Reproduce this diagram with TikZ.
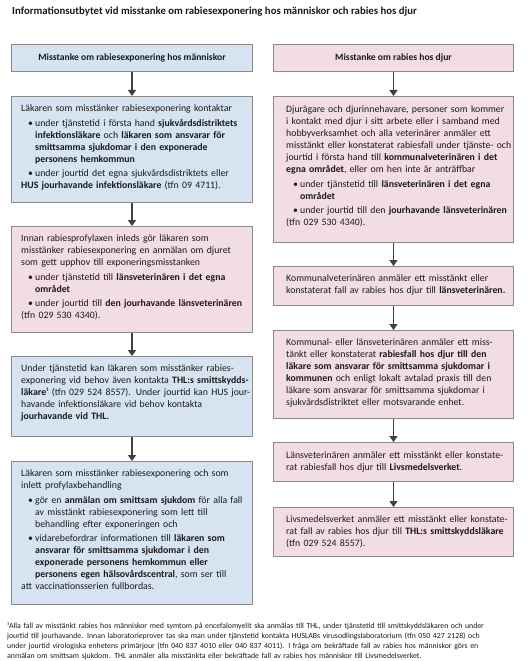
\documentclass[tikz,border=0pt]{standalone}
\usepackage{fontspec}
\setmainfont{Carlito}
\usetikzlibrary{arrows.meta}
\definecolor{bluefill}{HTML}{D6E3F1}
\definecolor{pinkfill}{HTML}{F2DCE5}
\definecolor{edgec}{HTML}{8A8A8A}
\definecolor{arrowc}{HTML}{404040}
\definecolor{textc}{HTML}{1A1A1A}
\newcommand\bitem{\par\vspace{2.6bp}\leftskip=14bp\noindent\llap{\makebox[7bp][l]{\textbullet}}}
\tikzset{
  box/.style={draw=edgec, line width=1bp, inner sep=0pt, anchor=north west},
  lbox/.style={box, minimum width=241bp, minimum height=#1},
  rbox/.style={box, minimum width=240bp, minimum height=#1},
  head/.style={font=\bfseries\fontsize{9.6bp}{12bp}\selectfont, text=textc},
  txt/.style={anchor=base west, inner sep=0pt, text width=300bp, align=left, text=textc,
              font=\fontsize{9.8bp}{12bp}\selectfont},
  arr/.style={draw=arrowc, line width=1.5bp, -{Triangle[width=8bp,length=6bp]}},
}
\begin{document}
\begin{tikzpicture}[x=1bp,y=-1bp]
\path[use as bounding box, fill=white] (0,0) rectangle (530,661);

\node[anchor=base west, inner sep=0pt, text=textc, font=\bfseries\fontsize{10.75bp}{12bp}\selectfont] (title) at (12,15)
  {Informationsutbytet vid misstanke om rabiesexponering hos människor och rabies hos djur};

% left column
\node[lbox=27bp, fill=bluefill, head] (LH) at (11,44) {Misstanke om rabiesexponering hos människor};
\node[lbox=106bp, fill=bluefill] (L1) at (11,96) {};
\node[lbox=106bp, fill=pinkfill] (L2) at (11,226) {};
\node[lbox=80bp, fill=bluefill] (L3) at (11,356) {};
\node[lbox=143bp, fill=bluefill] (L4) at (11,461) {};

% right column
\node[rbox=27bp, fill=pinkfill, head] (RH) at (273,44) {Misstanke om rabies hos djur};
\node[rbox=146bp, fill=pinkfill] (R1) at (273,96) {};
\node[rbox=39bp, fill=pinkfill] (R2) at (273,266) {};
\node[rbox=88bp, fill=pinkfill] (R3) at (273,330) {};
\node[rbox=39bp, fill=pinkfill] (R4) at (273,442) {};
\node[rbox=49bp, fill=pinkfill] (R5) at (273,507) {};

% texts
\node[txt] (L1t) at ([xshift=10bp,yshift=-15.5bp]L1.north west)
 {Läkaren som misstänker rabiesexponering kontaktar
  \bitem under tjänstetid i första hand \textbf{sjukvårdsdistriktets}\\
  \textbf{infektionsläkare} och \textbf{läkaren som ansvarar för}\\
  \textbf{smittsamma sjukdomar i den exponerade}\\
  \textbf{personens hemkommun}
  \bitem under jourtid det egna sjukvårdsdistriktets eller\\
  \textbf{HUS jourhavande infektionsläkare} (tfn 09 4711).};

\node[txt] (L2t) at ([xshift=10bp,yshift=-15.5bp]L2.north west)
 {Innan rabiesprofylaxen inleds gör läkaren som\\
  misstänker rabiesexponering en anmälan om djuret\\
  som gett upphov till exponeringsmisstanken
  \bitem under tjänstetid till \textbf{länsveterinären i det egna}\\
  \textbf{området}
  \bitem under jourtid till \textbf{den jourhavande länsveterinären}\\
  (tfn 029 530 4340).};

\node[txt] (L3t) at ([xshift=10bp,yshift=-15.5bp]L3.north west)
 {Under tjänstetid kan läkaren som misstänker rabies-\\
  exponering vid behov även kontakta \textbf{THL:s smittskydds-}\\
  \textbf{läkare}¹ (tfn 029 524 8557). Under jourtid kan HUS jour-\\
  havande infektionsläkare vid behov kontakta\\
  \textbf{jourhavande vid THL.}};

\node[txt] (L4t) at ([xshift=10bp,yshift=-15.5bp]L4.north west)
 {Läkaren som misstänker rabiesexponering och som\\
  inlett profylaxbehandling
  \bitem gör en \textbf{anmälan om smittsam sjukdom} för alla fall\\
  av misstänkt rabiesexponering som lett till\\
  behandling efter exponeringen och
  \bitem vidarebefordrar informationen till \textbf{läkaren som}\\
  \textbf{ansvarar för smittsamma sjukdomar i den}\\
  \textbf{exponerade personens hemkommun eller}\\
  \textbf{personens egen hälsovårdscentral}, som ser till\\
  att vaccinationsserien fullbordas.};

\node[txt] (R1t) at ([xshift=13bp,yshift=-16.5bp]R1.north west)
 {Djurägare och djurinnehavare, personer som kommer\\
  i kontakt med djur i sitt arbete eller i samband med\\
  hobbyverksamhet och alla veterinärer anmäler ett\\
  misstänkt eller konstaterat rabiesfall under tjänste- och\\
  jourtid i första hand till \textbf{kommunalveterinären i det}\\
  \textbf{egna området}, eller om hen inte är anträffbar
  \bitem under tjänstetid till \textbf{länsveterinären i det egna}\\
  \textbf{området}
  \bitem under jourtid till den \textbf{jourhavande länsveterinären}\\
  (tfn 029 530 4340).};

\node[txt] (R2t) at ([xshift=13bp,yshift=-15bp]R2.north west)
 {Kommunalveterinären anmäler ett misstänkt eller\\
  konstaterat fall av rabies hos djur till \textbf{länsveterinären.}};

\node[txt] (R3t) at ([xshift=13bp,yshift=-15.5bp]R3.north west)
 {Kommunal- eller länsveterinären anmäler ett miss-\\
  tänkt eller konstaterat \textbf{rabiesfall hos djur till den}\\
  \textbf{läkare som ansvarar för smittsamma sjukdomar i}\\
  \textbf{kommunen} och enligt lokalt avtalad praxis till den\\
  läkare som ansvarar för smittsamma sjukdomar i\\
  sjukvårdsdistriktet eller motsvarande enhet.};

\node[txt] (R4t) at ([xshift=13bp,yshift=-16bp]R4.north west)
 {Länsveterinären anmäler ett misstänkt eller konstate-\\
  rat rabiesfall hos djur till \textbf{Livsmedelsverket}.};

\node[txt] (R5t) at ([xshift=13bp,yshift=-15bp]R5.north west)
 {Livsmedelsverket anmäler ett misstänkt eller konstate-\\
  rat fall av rabies hos djur till \textbf{THL:s smittskyddsläkare}\\
  (tfn 029 524 8557).};

% arrows
\draw[arr] (LH.south) -- (L1.north);
\draw[arr] (L1.south) -- (L2.north);
\draw[arr] (L2.south) -- (L3.north);
\draw[arr] (L3.south) -- (L4.north);
\draw[arr] (RH.south) -- (R1.north);
\draw[arr] (R1.south) -- (R2.north);
\draw[arr] (R2.south) -- (R3.north);
\draw[arr] (R3.south) -- (R4.north);
\draw[arr] (R4.south) -- (R5.north);

% footnote
\node[anchor=base west, inner sep=0pt, text width=525bp, align=left, text=textc,
      font=\fontsize{7.8bp}{10bp}\selectfont] (foot) at (7,628)
 {¹Alla fall av misstänkt rabies hos människor med symtom på encefalomyelit ska anmälas till THL, under tjänstetid till smittskyddsläkaren och under\\
  jourtid till jourhavande. Innan laboratorieprover tas ska man under tjänstetid kontakta HUSLABs virusodlingslaboratorium (tfn 050 427 2128) och\\
  under jourtid virologiska enhetens primärjour (tfn 040 837 4010 eller 040 837 4011). I fråga om bekräftade fall av rabies hos människor görs en\\
  anmälan om smittsam sjukdom. THL anmäler alla misstänkta eller bekräftade fall av rabies hos människor till Livsmedelsverket.};
\end{tikzpicture}
\end{document}
